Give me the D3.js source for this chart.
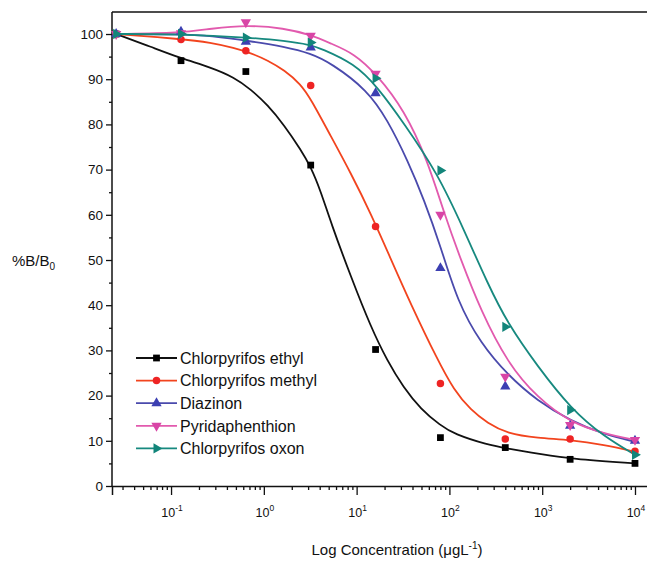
<!DOCTYPE html>
<html lang="en">
<head>
<meta charset="utf-8">
<title>Inhibition curves</title>
<script src="https://d3js.org/d3.v7.min.js"></script>
<style>
    body { margin: 0; background: #fff; }
    text { font-family: "Liberation Sans", Arial, sans-serif; fill: #111; }
</style>
</head>
<body>
<svg width="647" height="561" id="mainsvg"></svg>
<script>
    // concentrations (5-fold dilution series)
    const conc = [0.0256, 0.128, 0.64, 3.2, 16, 80, 400, 2000, 10000];

    const seriesNames = ['Chlorpyrifos ethyl', 'Chlorpyrifos methyl', 'Diazinon', 'Pyridaphenthion', 'Chlorpyrifos oxon'];

    // measured %B/B0
    const ethylPts = [100, 94.1, 91.7, 71.0, 30.2, 10.7, 8.5, 5.9, 5.0];
    const methylPts = [100, 98.8, 96.3, 88.6, 57.4, 22.7, 10.4, 10.4, 7.7];
    const diazinonPts = [100, 100.5, 98.3, 97.0, 86.9, 48.2, 22.0, 13.3, 10.0];
    const pyridaPts = [100, 100.2, 102.6, 99.6, 91.2, 60.0, 24.2, 13.5, 10.2];
    const oxonPts = [100, 100, 99.2, 98.1, 90.2, 69.8, 35.2, 16.8, 6.9];

    // fitted curves: [concentration, %B/B0]
    const ethylFit = [[0.0256, 100], [0.06, 97.2], [0.128, 94.6], [0.27, 92.6], [0.48, 90.4], [0.72, 87.8],
        [1.1, 84.3], [1.66, 79.8], [2.5, 74.4], [3.21, 70.6], [4.11, 65.2], [5.27, 58.3], [8.67, 46.3],
        [14.2, 35.2], [21.5, 27.6], [32, 21.8], [49.2, 17.0], [80, 13.4], [112, 11.5], [258, 9.1],
        [420, 8.3], [1000, 7.0], [2032, 6.0], [10000, 5.0]];
    const methylFit = [[0.0256, 100], [0.128, 98.9], [0.27, 98.1], [0.48, 96.9], [0.72, 95.8], [1.1, 94.2],
        [1.66, 92.0], [2.5, 88.9], [3.21, 85.6], [5.27, 77.4], [8.67, 69.2], [14.2, 60.3], [23.4, 50.2],
        [38.4, 40.2], [74.5, 27.9], [112, 21.2], [170, 16.8], [258, 13.9], [420, 11.6], [889, 10.6],
        [2032, 10.2], [4645, 9.1], [10000, 7.6]];
    const diazinonFit = [[0.0256, 100], [0.128, 100], [0.268, 99.6], [0.724, 98.4], [1.66, 97.2], [3.21, 95.7],
        [5.27, 93.6], [13.1, 87.6], [21.5, 81.0], [35.4, 72.1], [53.4, 63.3], [80.8, 52.9], [122, 40.8],
        [218, 31.5], [423, 24.6], [889, 18.8], [2032, 14.4], [4645, 11.4], [10000, 9.8]];
    const pyridaFit = [[0.0256, 100], [0.128, 100.2], [0.268, 101.2], [0.656, 102.0], [1.66, 101.3],
        [3.21, 99.8], [5.27, 97.9], [9.4, 95.7], [16.8, 90.9], [32.5, 83.2], [58.1, 72.1], [87.7, 60.3],
        [133, 50.0], [218, 38.8], [423, 27.2], [889, 19.5], [2032, 14.0], [4645, 11.6], [10000, 10.2]];
    const oxonFit = [[0.0256, 100], [0.128, 100], [0.724, 99.2], [1.66, 98.5], [3.21, 97.6], [4.11, 96.8],
        [9.4, 93.5], [16.8, 88.3], [32.5, 80.2], [74.5, 69.2], [144, 56.6], [258, 44.8], [423, 36.0],
        [889, 26.5], [2032, 17.1], [4645, 10.9], [10000, 6.9]];

    const yTicks = [0, 10, 20, 30, 40, 50, 60, 70, 80, 90, 100];
    const xDecades = [-1, 0, 1, 2, 3, 4];

    const series = [
        { name: seriesNames[0], pts: ethylPts, fit: ethylFit, line: '#111111', fill: '#000000', sym: d3.symbolSquare, rot: 0, size: 46 },
        { name: seriesNames[1], pts: methylPts, fit: methylFit, line: '#f2441e', fill: '#ee2424', sym: d3.symbolCircle, rot: 0, size: 44 },
        { name: seriesNames[2], pts: diazinonPts, fit: diazinonFit, line: '#4a4aac', fill: '#3c3fb2', sym: d3.symbolTriangle, rot: 0, size: 46 },
        { name: seriesNames[3], pts: pyridaPts, fit: pyridaFit, line: '#e25aae', fill: '#d845a6', sym: d3.symbolTriangle, rot: 180, size: 46 },
        { name: seriesNames[4], pts: oxonPts, fit: oxonFit, line: '#17897f', fill: '#12857a', sym: d3.symbolTriangle, rot: 90, size: 46 }
    ];

    const svg = d3.select('#mainsvg');
    const margin = { top: 12, left: 112, bottom: 486 };

    const xScale = d3.scaleLog()
        .domain([0.0231, 18600])
        .range([margin.left, 660]);
    const yScale = d3.scaleLinear()
        .domain([0, 104.87])
        .range([margin.bottom, margin.top]);

    const g = svg.append('g');

    // frame: top line, left and bottom axis lines
    g.append('line').attr('x1', margin.left).attr('x2', 660).attr('y1', margin.top).attr('y2', margin.top)
        .attr('stroke', '#111').attr('stroke-width', 1.5);

    // y axis with minor ticks
    const yAxisG = g.append('g').attr('transform', `translate(${margin.left},0)`);
    yAxisG.call(d3.axisLeft(yScale).tickValues(yTicks).tickSize(6).tickPadding(3).tickFormat(d3.format('d')));
    yAxisG.append('g').call(d3.axisLeft(yScale).tickValues(yTicks.slice(0, -1).map(d => d + 5)).tickSize(3).tickFormat(''))
        .selectAll('.domain').remove();
    yAxisG.select('.domain').attr('d', `M0,${margin.top}V${margin.bottom}`);

    // x axis: major decades + minor ticks
    const minor = [];
    d3.range(-2, 5).forEach(p => {
        d3.range(2, 10).forEach(m => {
            const v = m * Math.pow(10, p);
            if (v > xScale.domain()[0] && v < xScale.domain()[1]) minor.push(v);
        });
    });
    const xAxisG = g.append('g').attr('transform', `translate(0,${margin.bottom})`);
    xAxisG.call(d3.axisBottom(xScale).tickValues(xDecades.map(p => Math.pow(10, p))).tickSize(9).tickPadding(6).tickFormat(''));
    xAxisG.append('g').call(d3.axisBottom(xScale).tickValues(minor).tickSize(4).tickFormat(''))
        .selectAll('.domain').remove();

    svg.selectAll('.domain').attr('stroke', '#111').attr('stroke-width', 1.5);
    svg.selectAll('.tick line').attr('stroke', '#111').attr('stroke-width', 1.3);
    yAxisG.selectAll('.tick text').attr('font-size', 13.5).attr('fill', '#222')
        .style('font-family', '"Liberation Sans", Arial, sans-serif');

    // decade labels with superscripts
    const xl = g.selectAll('.xlab').data(xDecades).enter().append('text')
        .attr('class', 'xlab')
        .attr('x', d => xScale(Math.pow(10, d)) + 1)
        .attr('y', margin.bottom + 31)
        .attr('text-anchor', 'middle')
        .attr('font-size', 12.5)
        .attr('fill', '#222');
    xl.append('tspan').text('10');
    xl.append('tspan').attr('dy', -6).attr('font-size', 8.5).text(d => d);

    // axis titles
    const yt = g.append('text').attr('x', 12).attr('y', 266).attr('font-size', 15);
    yt.append('tspan').text('%B/B');
    yt.append('tspan').attr('dy', 4).attr('font-size', 10).text('0');

    const xt = g.append('text').attr('x', 397).attr('y', 555).attr('text-anchor', 'middle').attr('font-size', 15);
    xt.append('tspan').text('Log Concentration (\u03bcgL');
    xt.append('tspan').attr('dy', -6).attr('font-size', 10).text('-1');
    xt.append('tspan').attr('dy', 6).text(')');

    // fitted curves
    const line = d3.line()
        .x(d => xScale(d[0]))
        .y(d => yScale(d[1]))
        .curve(d3.curveBasis);

    series.forEach(s => {
        g.append('path')
            .datum(s.fit)
            .attr('d', line)
            .attr('fill', 'none')
            .attr('stroke', s.line)
            .attr('stroke-width', 1.8);
    });

    // measured points
    series.forEach(s => {
        const sym = d3.symbol().type(s.sym).size(s.size);
        g.selectAll(null).data(s.pts).enter().append('path')
            .attr('d', sym)
            .attr('transform', (d, i) => `translate(${xScale(conc[i])},${yScale(d)}) rotate(${s.rot})`)
            .attr('fill', s.fill);
    });

    // legend
    const legend = g.selectAll('.legend').data(series).enter().append('g')
        .attr('class', 'legend')
        .attr('transform', (d, i) => `translate(136,${358 + i * 22.6})`);
    legend.append('line').attr('x1', 0).attr('x2', 41).attr('y1', 0).attr('y2', 0)
        .attr('stroke', d => d.line).attr('stroke-width', 1.8);
    legend.append('path')
        .attr('d', d => d3.symbol().type(d.sym).size(d.size)())
        .attr('transform', d => `translate(20.5,0) rotate(${d.rot})`)
        .attr('fill', d => d.fill);
    legend.append('text')
        .attr('x', 44)
        .attr('dy', '0.36em')
        .attr('font-size', 16)
        .text(d => d.name);
</script>
</body>
</html>
